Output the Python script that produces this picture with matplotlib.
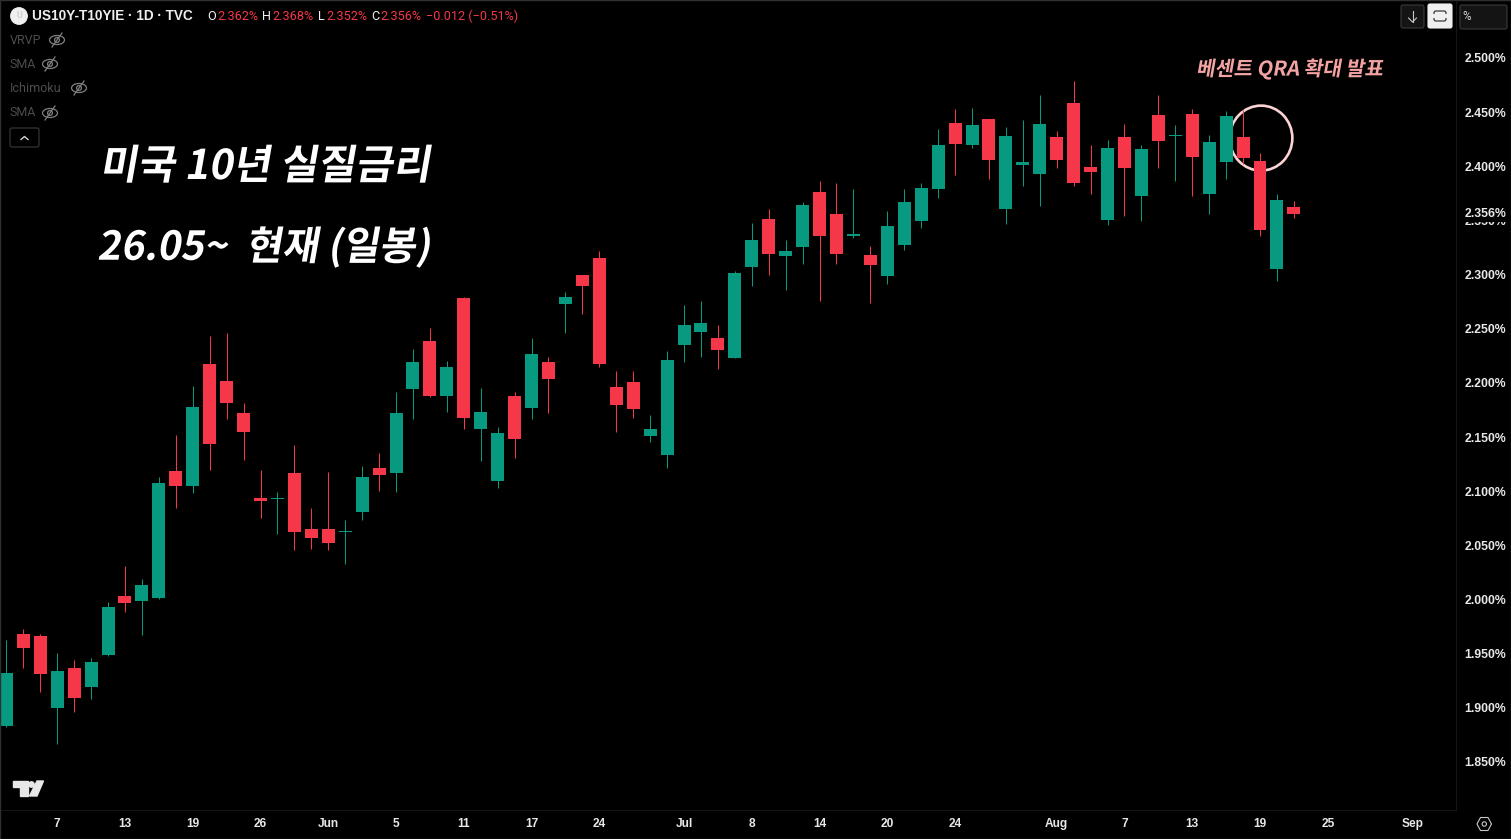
import matplotlib
matplotlib.use("Agg")
import matplotlib.pyplot as plt
from matplotlib.patches import Ellipse, FancyBboxPatch, Polygon, Rectangle, Circle
from matplotlib.patheffects import AbstractPathEffect
from matplotlib.transforms import Affine2D

opens = [1.883, 1.968, 1.966, 1.900, 1.937, 1.919, 1.949, 2.003, 1.999, 2.001, 2.119, 2.105, 2.217,
         2.202, 2.172, 2.094, 2.093, 2.117, 2.065, 2.065, 2.062, 2.081, 2.121, 2.117, 2.194, 2.239,
         2.188, 2.278, 2.157, 2.109, 2.188, 2.177, 2.219, 2.273, 2.300, 2.315, 2.196, 2.201, 2.151,
         2.133, 2.235, 2.247, 2.241, 2.223, 2.307, 2.351, 2.317, 2.325, 2.376, 2.356, 2.336, 2.318,
         2.299, 2.327, 2.349, 2.379, 2.440, 2.420, 2.444, 2.361, 2.401, 2.393, 2.427, 2.458, 2.399,
         2.350, 2.427, 2.373, 2.447, 2.428, 2.448, 2.374, 2.404, 2.427, 2.405, 2.305, 2.362]
highs = [1.963, 1.973, 1.968, 1.951, 1.944, 1.946, 1.998, 2.031, 2.019, 2.113, 2.152, 2.197, 2.243,
         2.246, 2.181, 2.120, 2.099, 2.143, 2.084, 2.118, 2.073, 2.123, 2.135, 2.192, 2.231, 2.251,
         2.220, 2.279, 2.195, 2.159, 2.192, 2.241, 2.224, 2.284, 2.300, 2.322, 2.211, 2.211, 2.170,
         2.229, 2.272, 2.276, 2.253, 2.303, 2.348, 2.361, 2.332, 2.367, 2.386, 2.385, 2.379, 2.326,
         2.359, 2.379, 2.385, 2.434, 2.453, 2.454, 2.444, 2.436, 2.443, 2.466, 2.433, 2.479, 2.420,
         2.424, 2.439, 2.420, 2.466, 2.438, 2.453, 2.429, 2.451, 2.452, 2.412, 2.374, 2.368]
lows = [1.882, 1.937, 1.915, 1.867, 1.896, 1.908, 1.948, 1.988, 1.967, 2.000, 2.084, 2.098, 2.120,
        2.167, 2.129, 2.075, 2.060, 2.046, 2.047, 2.046, 2.033, 2.073, 2.100, 2.099, 2.167, 2.187,
        2.173, 2.157, 2.128, 2.103, 2.131, 2.167, 2.172, 2.246, 2.264, 2.215, 2.155, 2.168, 2.145,
        2.121, 2.219, 2.224, 2.213, 2.223, 2.289, 2.300, 2.286, 2.310, 2.276, 2.310, 2.334, 2.274,
        2.291, 2.323, 2.343, 2.371, 2.392, 2.417, 2.388, 2.347, 2.382, 2.363, 2.398, 2.382, 2.374,
        2.346, 2.354, 2.349, 2.398, 2.386, 2.373, 2.356, 2.388, 2.402, 2.336, 2.294, 2.352]
closes = [1.932, 1.955, 1.931, 1.934, 1.909, 1.942, 1.993, 1.997, 2.013, 2.108, 2.105, 2.178, 2.144,
          2.181, 2.155, 2.091, 2.094, 2.062, 2.057, 2.052, 2.063, 2.113, 2.115, 2.172, 2.219, 2.188,
          2.215, 2.168, 2.173, 2.154, 2.148, 2.227, 2.204, 2.279, 2.289, 2.217, 2.180, 2.176, 2.157,
          2.221, 2.253, 2.255, 2.230, 2.301, 2.332, 2.319, 2.322, 2.364, 2.336, 2.319, 2.337, 2.309,
          2.345, 2.367, 2.380, 2.420, 2.421, 2.438, 2.406, 2.428, 2.404, 2.439, 2.406, 2.385, 2.395,
          2.417, 2.398, 2.416, 2.423, 2.429, 2.409, 2.422, 2.446, 2.408, 2.341, 2.369, 2.356]

x_tick_pos = [3, 7, 11, 15, 19, 23, 27, 31, 35, 40, 44, 48, 52, 56, 62, 66, 70, 74, 78, 83]
x_tick_labels = ["7", "13", "19", "26", "Jun", "5", "11", "17", "24", "Jul", "8", "14", "20", "24",
                 "Aug", "7", "13", "19", "25", "Sep"]
y_ticks = [1.85, 1.90, 1.95, 2.00, 2.05, 2.10, 2.15, 2.20, 2.25, 2.30, 2.35, 2.40, 2.45, 2.50]

GREEN = "#089981"
RED = "#f6374a"
UI_FONT = ["Roboto", "DejaVu Sans"]
BOLD_FONT = ["Liberation Sans", "DejaVu Sans"]
KR_FONT = ["Noto Sans CJK KR", "DejaVu Sans"]


class Slant(AbstractPathEffect):
    # the CJK fonts have no italic, so lean the glyphs by hand
    def __init__(self, angle=10):
        super().__init__()
        self.angle = angle

    def draw_path(self, renderer, gc, tpath, affine, rgbFace=None):
        renderer.draw_path(gc, tpath, Affine2D().skew_deg(self.angle, 0) + affine, rgbFace)


fig = plt.figure(figsize=(15.11, 8.39), dpi=100, facecolor="black")

# main pane, pixel box 1..1456 by 1..810
ax = fig.add_axes([1 / 1511, 1 - 810 / 839, 1455 / 1511, 809 / 839], facecolor="black")
ax.set_xlim(-0.319, 85.57)
ax.set_ylim(1.8056, 2.5526)

for i in range(len(opens)):
    col = GREEN if closes[i] >= opens[i] else RED
    ax.vlines(i, lows[i], highs[i], color=col, lw=0.72, zorder=3)
    ax.bar(i, abs(closes[i] - opens[i]), bottom=min(opens[i], closes[i]), width=0.767,
           color=col, linewidth=0, antialiased=False, zorder=4)

# circle around the QRA day
ax.add_patch(Ellipse((74.06, 2.426), 3.7, 0.060, fill=False, ec="#fbd3d3", lw=1.9, zorder=2))

ax.set_xticks(x_tick_pos)
ax.set_xticklabels(x_tick_labels, family=BOLD_FONT, fontsize=8.6, weight="bold", color="#e8e8e8")
ax.yaxis.tick_right()
ax.set_yticks(y_ticks)
ax.set_yticklabels(["%.3f%%" % v for v in y_ticks], family=BOLD_FONT, fontsize=8.8, weight="bold",
                   color="#e8e8e8")
ax.tick_params(axis="x", length=0, pad=6)
ax.tick_params(axis="y", length=0, pad=6)
for name, spine in ax.spines.items():
    spine.set_visible(name in ("right", "bottom"))
    spine.set_color("#141414")
    spine.set_linewidth(0.8)

# overlay in pixel coordinates for the terminal furniture
ov = fig.add_axes([0, 0, 1, 1], facecolor="none")
ov.set_xlim(0, 1511)
ov.set_ylim(839, 0)
ov.axis("off")


def box(x, y, w, h, fc, ec):
    ov.add_patch(FancyBboxPatch((x + 2, y + 2), w - 4, h - 4, boxstyle="round,pad=2", fc=fc, ec=ec, lw=0.8))


def eye(x, y):
    ov.add_patch(Ellipse((x, y), 15, 9, fill=False, ec="#808080", lw=0.9))
    ov.add_patch(Circle((x, y), 2.4, fill=False, ec="#808080", lw=0.9))
    ov.plot([x - 5, x + 5], [y + 7, y - 7], color="#808080", lw=0.9)


ov.add_patch(Rectangle((0, 0), 1511, 838.5, fill=False, ec="#303030", lw=1))

# axis value flag over the 2.350 tick
ov.text(1465, 214, "2.356%", family=BOLD_FONT, fontsize=8.8, weight="bold", color="#e8e8e8", va="center",
        bbox=dict(fc="black", ec="none", pad=1.2))

# header
ov.add_patch(Circle((19, 16), 8.2, color="#f0f0f0"))
ov.text(19, 16, "U", family=UI_FONT, fontsize=6.5, weight="bold", color="#d0d0d0", ha="center", va="center")
ov.text(32, 16.5, "US10Y-T10YIE · 1D · TVC", family=BOLD_FONT, fontsize=9.8, weight="bold", color="#eeeeee", va="center")
for x, s, c in [(207, "O", "#f0f0f0"), (217, "2.362%", RED), (262, "H", "#f0f0f0"), (272, "2.368%", RED),
                (318, "L", "#f0f0f0"), (326, "2.352%", RED), (371, "C", "#f0f0f0"), (380, "2.356%", RED),
                (426, "−0.012 (−0.51%)", RED)]:
    ov.text(x, 16.5, s, family=UI_FONT, fontsize=9.1, color=c, va="center")

for y, s, ex in [(40, "VRVP", 57), (64, "SMA", 50), (88, "Ichimoku", 79), (113, "SMA", 50)]:
    ov.text(10, y, s, family=UI_FONT, fontsize=9, color="#4c4c4c", va="center")
    eye(ex, y)

box(10, 128, 29, 19, "black", "#3a3a3a")
ov.plot([21, 24.5, 28], [139.5, 136.5, 139.5], color="#d0d0d0", lw=1)

# top right buttons
box(1401, 5, 23, 23, "#141414", "#3a3a3a")
ov.plot([1412.5, 1412.5], [11, 22], color="#c8c8c8", lw=0.8)
ov.plot([1408.5, 1412.5, 1416.5], [18, 22, 18], color="#c8c8c8", lw=0.8)
box(1428, 4, 24, 24, "#efefef", "#efefef")
box(1434, 11, 12, 10, "none", "#222222")
ov.add_patch(Rectangle((1432, 14), 16, 4, fc="#efefef", ec="none"))
box(1460, 5, 47, 24, "#141414", "#3a3a3a")
ov.text(1467, 17, "%", family=UI_FONT, fontsize=8.4, color="#d8d8d8", ha="center", va="center")

# chart titles
ov.text(99.5, 167, "미국 10년 실질금리", family=KR_FONT, fontsize=29.5, weight="bold", color="white", va="center",
        path_effects=[Slant()])
ov.text(97, 248, "26.05~  현재 (일봉)", family=KR_FONT, fontsize=28.6, weight="bold", color="white", va="center",
        path_effects=[Slant()])
ov.text(1196, 69, "베센트 QRA 확대 발표", family=KR_FONT, fontsize=14.6, weight="bold", color="#f4a3a3", va="center",
        path_effects=[Slant()])

# tradingview logo
ov.add_patch(Polygon([(13, 781), (28, 781), (28, 796), (20, 796), (20, 787), (13, 787)], color="#e8e8e8"))
ov.add_patch(Circle((31.5, 784.5), 2.7, color="#e8e8e8"))
ov.add_patch(Polygon([(37, 781), (43.5, 781), (37, 796), (29.5, 796)], color="#e8e8e8"))

# settings hexagon
ov.add_patch(Polygon([(1477, 824), (1480.5, 817.5), (1488, 817.5), (1491.5, 824), (1488, 830.5), (1480.5, 830.5)],
                     fill=False, ec="#c8c8c8", lw=0.8))
ov.add_patch(Circle((1484.3, 824), 2.2, fill=False, ec="#c8c8c8", lw=0.8))

fig.savefig("out.png", dpi=100, facecolor="black")
